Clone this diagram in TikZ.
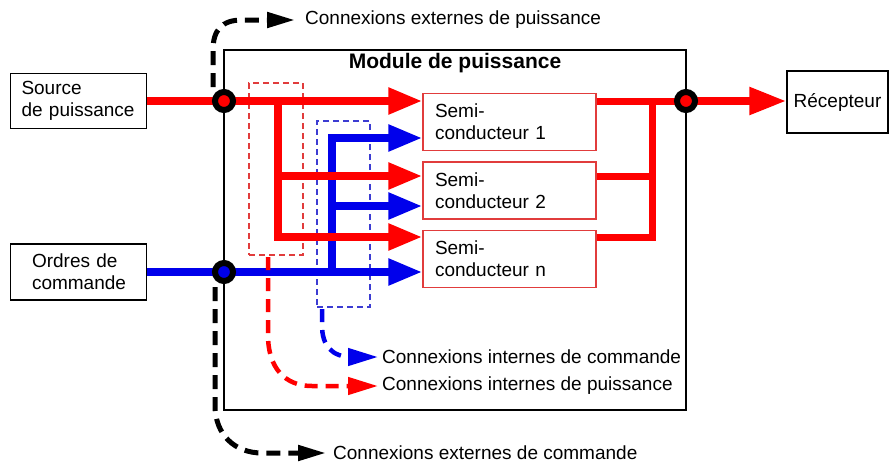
\documentclass[tikz,border=0pt]{standalone}
\usepackage{fontspec}
\setmainfont{Liberation Sans}
\usetikzlibrary{arrows.meta}
\definecolor{pred}{RGB}{255,0,0}
\definecolor{pblue}{RGB}{0,0,235}
\definecolor{bred}{RGB}{225,60,60}
\definecolor{dblue}{RGB}{60,60,210}
\begin{document}
\begin{tikzpicture}[x=1pt,y=-1pt, font=\fontsize{19}{22}\selectfont,
  blk/.style={draw=black, line width=1.2pt, fill=white, inner sep=0pt},
  sbox/.style={draw=bred, line width=1.2pt, fill=white, minimum width=173pt, minimum height=57pt, inner sep=0pt, text width=149pt, align=left},
  rl/.style={draw=pred, line width=8pt},
  bl/.style={draw=pblue, line width=8pt},
  rl2/.style={draw=pred, line width=7pt},
  bigtip/.style={-{Triangle[length=34pt,width=25pt]}},
  jn/.style={circle, draw=black, line width=6pt, minimum size=18pt, inner sep=0pt},
  kd/.style={draw=black, line width=5pt, dash pattern=on 14pt off 8pt, -{Triangle[length=28pt,width=15pt]}},
  cd/.style={line width=4.5pt, dash pattern=on 13pt off 8pt, -{Triangle[length=30pt,width=17pt]}},
  dbox/.style={line width=1.1pt, dash pattern=on 6pt off 4pt, inner sep=0pt},
  lbl/.style={anchor=west, inner sep=0pt}]
\useasboundingbox (0,0) rectangle (890,463);

% module box
\node[draw=black, line width=1.2pt, minimum width=462pt, minimum height=360pt, inner sep=0pt] (mod) at (455,230) {};
\node[font=\bfseries\fontsize{21}{25}\selectfont] (title) at (455,63) {Module de puissance};

% outer boxes
\node[blk, minimum width=136pt, minimum height=55pt, text width=114pt, align=left] (src) at (78.5,101) {Source\\de puissance};
\node[blk, minimum width=136pt, minimum height=56pt, text width=93pt, align=left] (ord) at (78.5,272) {Ordres de\\commande};
\node[blk, minimum width=101pt, minimum height=62pt] (rec) at (837.5,102) {Récepteur};

% semiconductors
\node[sbox] (s1) at (509.5,122) {Semi-\\conducteur 1};
\node[sbox] (s2) at (509.5,190.5) {Semi-\\conducteur 2};
\node[sbox] (s3) at (509.5,259) {Semi-\\conducteur n};

% dashed groupings
\node[dbox, draw=bred, minimum width=54pt, minimum height=172pt] (rdb) at (276,169) {};
\node[dbox, draw=dblue, minimum width=53pt, minimum height=186pt] (bdb) at (343.5,214) {};

% coordinates
\coordinate (J1) at (224,101);
\coordinate (J2) at (686,101);
\coordinate (J3) at (224,272);
\coordinate (rb) at (278,101);
\coordinate (r2) at (278,176);
\coordinate (r3) at (278,237);
\coordinate (bb) at (332,272);
\coordinate (b1) at (332,138);
\coordinate (b2) at (332,206);
\coordinate (ob) at (652,101);

% blue command lines
\draw[bl] (ord.east) -- (J3);
\draw[bl, bigtip] (J3) -- (s3.west |- J3);
\draw[bl, bigtip] (bb) -- (b1) -- (s1.west |- b1);
\draw[bl, bigtip] (b2) -- (s2.west |- b2);

% red power lines
\draw[rl] (src.east) -- (J1);
\draw[rl, bigtip] (J1) -- (s1.west |- J1);
\draw[rl, bigtip] (rb) -- (r3) -- (s3.west |- r3);
\draw[rl, bigtip] (r2) -- (s2.west |- r2);

% outputs
\draw[rl2] (s1.east |- J1) -- (J2);
\draw[rl2] (s2.east |- r2) -- (ob |- r2);
\draw[rl2] (s3.east |- r3) -- (ob |- r3) -- (ob);
\draw[rl, -{Triangle[length=37pt,width=26pt]}] (J2) -- (rec.west |- J2);

% junctions
\node[jn, fill=pred] (j1) at (J1) {};
\node[jn, fill=pred] (j2) at (J2) {};
\node[jn, fill=pblue] (j3) at (J3) {};

% labels
\node[lbl] (lep) at (305,20) {Connexions externes de puissance};
\node[lbl] (lec) at (333,453) {Connexions externes de commande};
\node[lbl] (lic) at (382,357) {Connexions internes de commande};
\node[lbl] (lip) at (382,386) {Connexions internes de puissance};

% dashed connectors
\coordinate (k1) at (213,87);
\coordinate (k2) at (215,287);
\coordinate (rd0) at (268,257);
\coordinate (bd0) at (322,309);
\draw[kd, shorten >=10pt] (k1) -- (213,50) .. controls (213,30) and (222,20) .. (242,20) -- (lep.west);
\draw[kd, shorten >=7pt] (k2) -- (215,405) .. controls (215,435) and (235,453) .. (262,453) -- (lec.west);
\draw[cd, draw=pred, shorten >=4pt] (rd0) -- (268,335) .. controls (268,368) and (285,386) .. (312,386) -- (lip.west);
\draw[cd, draw=pblue, shorten >=4pt] (bd0) -- (322,325) .. controls (322,346) and (332,357) .. (352,357) -- (lic.west);
\end{tikzpicture}
\end{document}
